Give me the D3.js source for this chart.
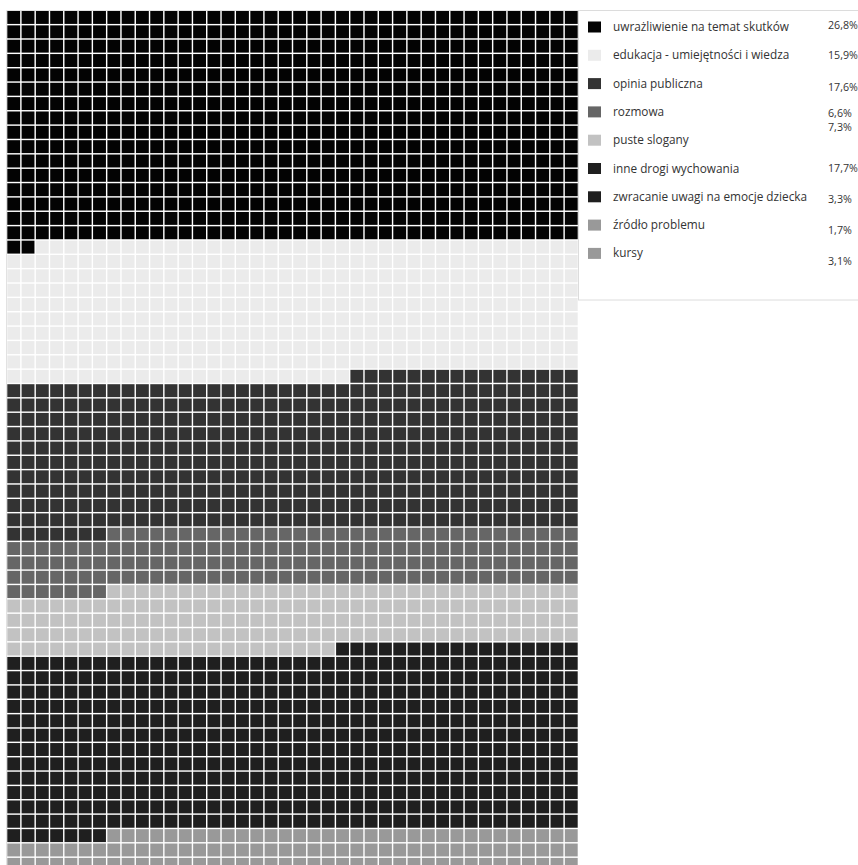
<!DOCTYPE html>
<html>
<head>
<meta charset="utf-8">
<script src="https://cdn.jsdelivr.net/npm/d3@7"></script>
<style>
  html, body { margin: 0; padding: 0; background: #ffffff; }
  svg { display: block; }
</style>
</head>
<body>
<svg id="chart" width="858" height="865"></svg>
<script>
// ---------- data ----------
const categories = [
  "uwrażliwienie na temat skutków",
  "edukacja - umiejętności i wiedza",
  "opinia publiczna",
  "rozmowa",
  "puste slogany",
  "inne drogi wychowania",
  "zwracanie uwagi na emocje dziecka",
  "źródło problemu",
  "kursy"
];
const percentLabels = ["26,8%", "15,9%", "17,6%", "6,6%", "7,3%", "17,7%", "3,3%", "1,7%", "3,1%"];
// number of waffle cells per category (40 x 60 grid)
const cellCounts = [642, 382, 423, 160, 176, 425, 79, 41, 72];
const colors = ["#030303", "#ebebeb", "#333333", "#666666", "#c2c2c2", "#1f1f1f", "#1f1f1f", "#999999", "#999999"];

// ---------- layout ----------
const nCols = 40, nRows = 60;
const gridLeft = 7.3, gridRight = 577.7, gridTop = 11, rowStep = 14.33;
const legendRowStep = 28.3;
const valueLabelDy = [-2, 0, 3.1, 0.8, -13.2, -0.8, 2.5, 5.2, 7.6];

const svg = d3.select("#chart");

// outer frame lines
svg.append("line").attr("x1", 6.5).attr("x2", 858).attr("y1", 10.5).attr("y2", 10.5)
  .attr("stroke", "#e2e2e2").attr("stroke-width", 1);
svg.append("line").attr("x1", 6.5).attr("x2", 6.5).attr("y1", 10.5).attr("y2", 865)
  .attr("stroke", "#e2e2e2").attr("stroke-width", 1);

// cells
const cells = [];
let idx = 0;
cellCounts.forEach((n, c) => {
  for (let k = 0; k < n; k++) {
    cells.push({ i: idx, cat: c, row: Math.floor(idx / nCols), col: idx % nCols });
    idx++;
  }
});

const x = d3.scaleBand().domain(d3.range(nCols)).range([gridLeft, gridRight]).paddingInner(0.1).paddingOuter(0);
const y = d3.scaleBand().domain(d3.range(nRows)).range([gridTop, gridTop + nRows * rowStep]).paddingInner(0.1).paddingOuter(0);
const color = d3.scaleOrdinal().domain(d3.range(categories.length)).range(colors);

svg.append("g").selectAll("rect").data(cells).join("rect")
  .attr("x", d => x(d.col))
  .attr("y", d => y(d.row))
  .attr("width", x.bandwidth())
  .attr("height", y.bandwidth())
  .attr("fill", d => color(d.cat));

// legend
const lg = svg.append("g");
lg.append("rect").attr("x", 578.5).attr("y", 10.5).attr("width", 290).attr("height", 289.5)
  .attr("fill", "#ffffff").attr("stroke", "#dcdcdc").attr("stroke-width", 1);

const items = lg.selectAll("g.item").data(categories).join("g").attr("class", "item")
  .attr("transform", (d, i) => `translate(0, ${i * legendRowStep})`);

items.append("rect").attr("x", 588).attr("y", 21.5).attr("width", 13).attr("height", 11)
  .attr("fill", (d, i) => color(i));

items.append("text").attr("x", 613).attr("y", 31)
  .attr("font-family", "'Open Sans', 'Noto Sans', sans-serif").attr("font-size", 11.8)
  .attr("fill", "#333333").text(d => d);

items.append("text").attr("x", 828).attr("y", (d, i) => 31 + valueLabelDy[i])
  .attr("font-family", "'Open Sans', 'Noto Sans', sans-serif").attr("font-size", 10.7)
  .attr("fill", "#333333").text((d, i) => percentLabels[i]);
</script>
</body>
</html>
